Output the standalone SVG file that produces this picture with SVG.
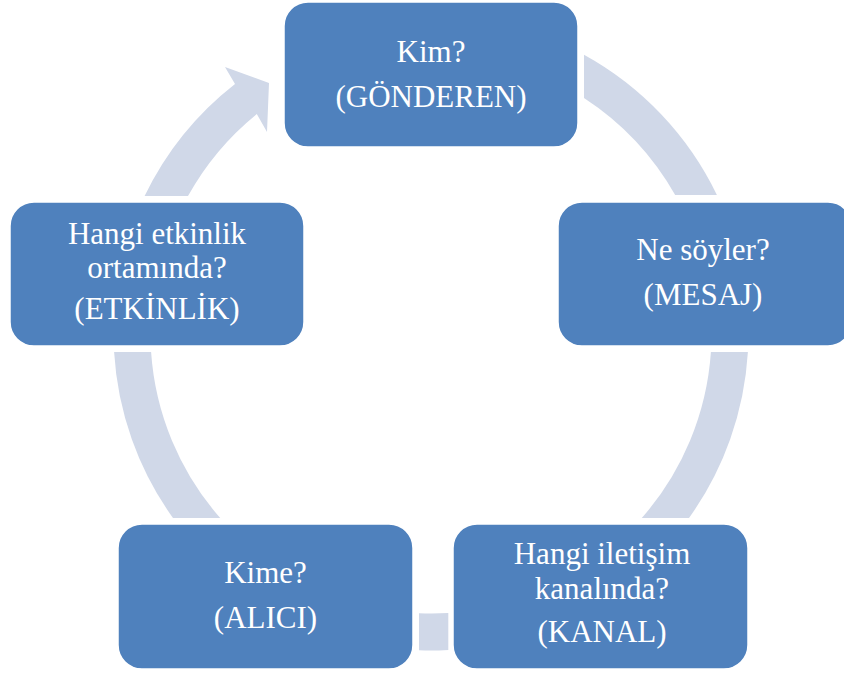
<svg xmlns="http://www.w3.org/2000/svg" width="844" height="673" viewBox="0 0 844 673">
<style>
.box{fill:#4F81BD;stroke:#FFFFFF;stroke-width:1.5}
.arc{fill:#D0D8E8;stroke:none}
.lbl{font-family:"Liberation Serif","Times New Roman",serif;font-size:31px;fill:#FFFFFF;text-anchor:middle}
</style>
<rect width="844" height="673" fill="#FFFFFF"/>
<g id="connectors">
<path class="arc" d="M584,54.8 A317.5,317.5 0 0 1 716.9,195 L675.2,195 A280.5,280.5 0 0 0 584,97.9 Z"/>
<path class="arc" d="M747.9,352 A317.5,317.5 0 0 1 689,518 L641.8,518 A280.5,280.5 0 0 0 710.9,352 Z"/>
<path class="arc" d="M448.3,650 A317.5,317.5 0 0 1 419,650.3 L419,613.2 A280.5,280.5 0 0 0 448.3,613 Z"/>
<path class="arc" d="M173,518 A317.5,317.5 0 0 1 114.1,352 L151.1,352 A280.5,280.5 0 0 0 220.2,518 Z"/>
<path class="arc" d="M144.6,196 A317.5,317.5 0 0 1 235,84 L225,67 L269,83 L267,132 L256.8,114 A280.5,280.5 0 0 0 188,196 Z"/>
</g>
<g id="node-gonderen">
<rect class="box" x="284" y="2" width="294" height="145" rx="24"/>
<text class="lbl" x="431" y="62">Kim?</text>
<text class="lbl" x="431" y="107">(GÖNDEREN)</text>
</g>
<g id="node-mesaj">
<rect class="box" x="558" y="202" width="294" height="144" rx="24"/>
<text class="lbl" x="703" y="260">Ne söyler?</text>
<text class="lbl" x="703" y="305">(MESAJ)</text>
</g>
<g id="node-kanal">
<rect class="box" x="453" y="524" width="295" height="145" rx="24"/>
<text class="lbl" x="602" y="564">Hangi iletişim</text>
<text class="lbl" x="602" y="599">kanalında?</text>
<text class="lbl" x="602" y="642">(KANAL)</text>
</g>
<g id="node-alici">
<rect class="box" x="118" y="524" width="295" height="145" rx="24"/>
<text class="lbl" x="265.5" y="583">Kime?</text>
<text class="lbl" x="265.5" y="628">(ALICI)</text>
</g>
<g id="node-etkinlik">
<rect class="box" x="10" y="202" width="294" height="144" rx="24"/>
<text class="lbl" x="157" y="244">Hangi etkinlik</text>
<text class="lbl" x="157" y="278">ortamında?</text>
<text class="lbl" x="157" y="319">(ETKİNLİK)</text>
</g>
</svg>
